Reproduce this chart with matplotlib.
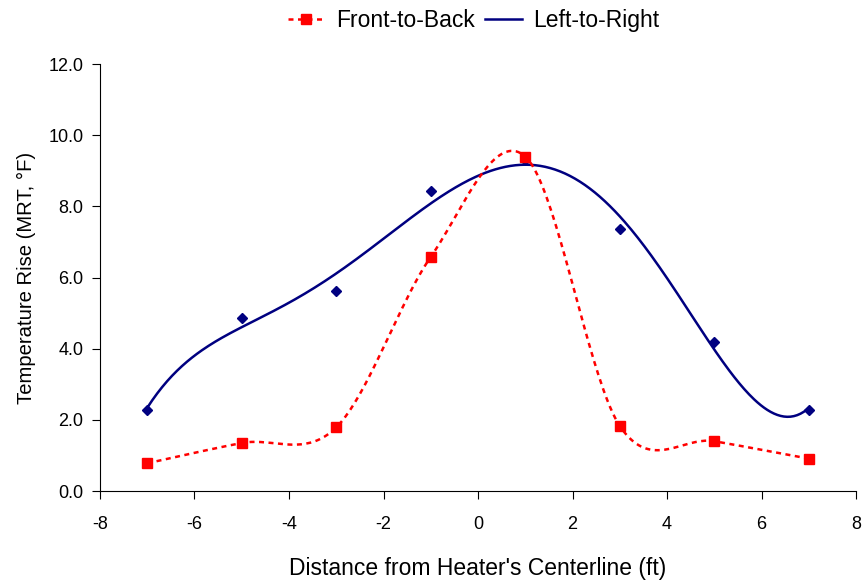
import numpy as np
import matplotlib
matplotlib.use("Agg")
import matplotlib.pyplot as plt
from matplotlib.lines import Line2D

plt.rcParams['font.family'] = ['Liberation Sans', 'DejaVu Sans']
plt.rcParams['axes.unicode_minus'] = False

x_pos = [-7, -5, -3, -1, 1, 3, 5, 7]
front_to_back = [0.78, 1.35, 1.79, 6.58, 9.40, 1.83, 1.40, 0.91]
left_to_right = [2.29, 4.86, 5.63, 8.42, 9.30, 7.36, 4.19, 2.29]
x_ticks = [-8, -6, -4, -2, 0, 2, 4, 6, 8]
y_ticks = [0, 2, 4, 6, 8, 10, 12]
trend_degree = 5


def catmull_rom(xs, ys, n=40):
    xs = np.asarray(xs, float); ys = np.asarray(ys, float)
    px = np.concatenate([[xs[0]], xs, [xs[-1]]])
    py = np.concatenate([[ys[0]], ys, [ys[-1]]])
    ox, oy = [], []
    for i in range(1, len(px) - 2):
        t = np.linspace(0, 1, n, endpoint=False)
        p0, p1, p2, p3 = (np.array([px[i-1], py[i-1]]), np.array([px[i], py[i]]),
                          np.array([px[i+1], py[i+1]]), np.array([px[i+2], py[i+2]]))
        m1 = (p2 - p0) / 2
        m2 = (p3 - p1) / 2
        h00 = 2*t**3 - 3*t**2 + 1
        h10 = t**3 - 2*t**2 + t
        h01 = -2*t**3 + 3*t**2
        h11 = t**3 - t**2
        pts = (np.outer(h00, p1) + np.outer(h10, m1) + np.outer(h01, p2) + np.outer(h11, m2))
        ox.extend(pts[:, 0]); oy.extend(pts[:, 1])
    ox.append(xs[-1]); oy.append(ys[-1])
    return np.array(ox), np.array(oy)


RED = '#FF0000'
NAVY = '#000080'

fig = plt.figure(figsize=(8.68, 5.84), dpi=100)
ax = fig.add_axes([0.1152, 0.1592, 0.8710, 0.7312])

# Left-to-Right: polynomial trendline + diamond markers
xx = np.linspace(min(x_pos), max(x_pos), 400)
coef = np.polyfit(x_pos, left_to_right, trend_degree)
ax.plot(xx, np.polyval(coef, xx), color=NAVY, lw=1.8, zorder=2)
ax.plot(x_pos, left_to_right, ls='none', marker='D', ms=5, color=NAVY, zorder=3)

# Front-to-Back: smoothed dotted line + square markers
sx, sy = catmull_rom(x_pos, front_to_back)
ax.plot(sx, sy, color=RED, lw=1.8, dashes=(2, 1.8), zorder=3)
ax.plot(x_pos, front_to_back, ls='none', marker='s', ms=7, color=RED, zorder=4)

ax.set_xlim(-8, 8)
ax.set_ylim(0, 12)
ax.set_xticks(x_ticks)
ax.set_yticks(y_ticks)
ax.set_xticklabels([str(v) for v in x_ticks])
ax.set_yticklabels([f"{v:.1f}" for v in y_ticks])
for s in ['top', 'right']:
    ax.spines[s].set_visible(False)
ax.tick_params(direction='out', length=6, labelsize=13, pad=6)
ax.tick_params(axis='x', pad=12)
ax.set_xlabel("Distance from Heater's Centerline (ft)", fontsize=16.5, labelpad=17)
ax.set_ylabel("Temperature Rise (MRT, °F)", fontsize=14.6, labelpad=9)

handles = [
    Line2D([], [], color=RED, lw=1.8, dashes=(2, 1.8), marker='s', ms=7),
    Line2D([], [], color=NAVY, lw=1.8),
]
ax.legend(handles, ['Front-to-Back', 'Left-to-Right'], loc='center',
          bbox_to_anchor=(0.494, 1.103), ncol=2, frameon=False, fontsize=16.5,
          handlelength=1.6, handletextpad=0.5, columnspacing=0.45)

fig.savefig('out.png', dpi=100)
